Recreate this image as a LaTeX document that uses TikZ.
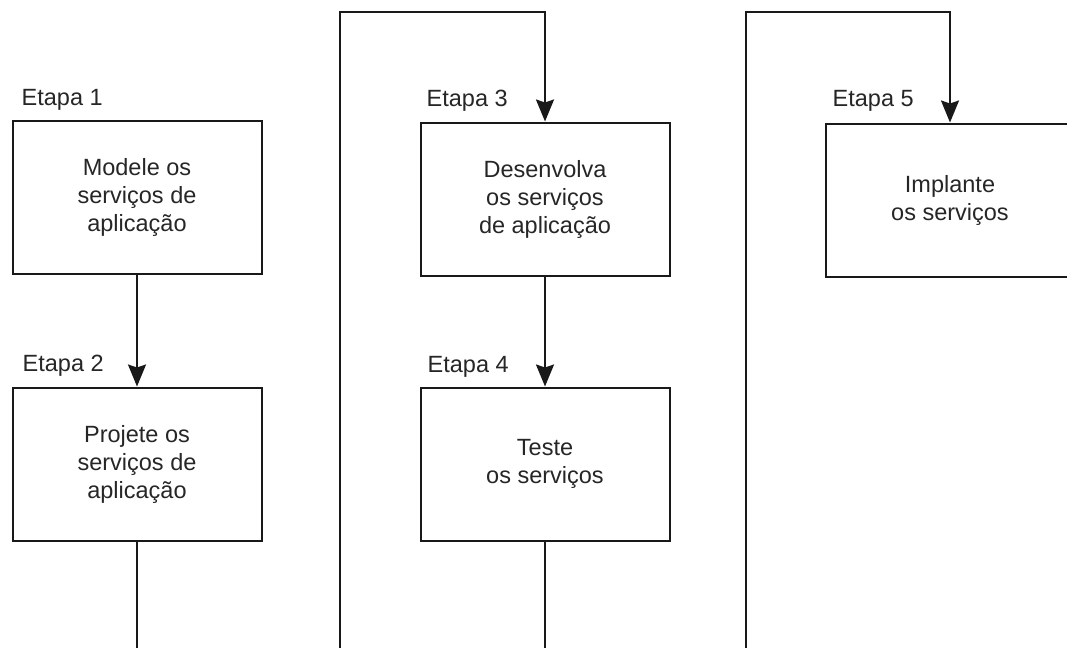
\documentclass[tikz,border=0pt]{standalone}
\usepackage{fontspec}
\setmainfont{Liberation Sans}
\usetikzlibrary{arrows.meta}
\begin{document}
\begin{tikzpicture}[x=1pt,y=-1pt,
  box/.style={draw=black!90, line width=2pt, rectangle, minimum width=249pt, minimum height=153pt, inner sep=0pt, align=center, font=\fontsize{23.5}{28}\selectfont, text=black!85},
  lbl/.style={anchor=base west, inner sep=0pt, font=\fontsize{23.5}{28}\selectfont, text=black!85},
  conn/.style={draw=black!90, line width=2pt},
  arr/.style={conn, -{Stealth[length=22pt, width=18pt, inset=3pt]}}]
\useasboundingbox (0,0) rectangle (1067,648);
\clip (0,0) rectangle (1067,648);
\node[box] (b1) at (137,197) {Modele os\\serviços de\\aplicação};
\node[box] (b2) at (137,464) {Projete os\\serviços de\\aplicação};
\node[box] (b3) at (545,199) {Desenvolva\\os serviços\\de aplicação};
\node[box] (b4) at (545,464) {Teste\\os serviços};
\node[box] (b5) at (950,200) {Implante\\os serviços};
\node[lbl] (l1) at ([shift={(10pt,14pt)}]b1.north west) {Etapa 1};
\node[lbl] (l2) at ([shift={(11pt,15pt)}]b2.north west) {Etapa 2};
\node[lbl] (l3) at ([shift={(7pt,15pt)}]b3.north west) {Etapa 3};
\node[lbl] (l4) at ([shift={(8pt,14pt)}]b4.north west) {Etapa 4};
\node[lbl] (l5) at ([shift={(8pt,16pt)}]b5.north west) {Etapa 5};
\coordinate (e2) at (137,648);
\coordinate (s3) at (340,648);
\coordinate (t3) at (340,12);
\coordinate (e4) at (545,648);
\coordinate (s5) at (746,648);
\coordinate (t5) at (746,12);
\draw[arr] (b1.south) -- (b2.north);
\draw[conn] (b2.south) -- (e2);
\draw[arr] (s3) -- (t3) -| (b3.north);
\draw[arr] (b3.south) -- (b4.north);
\draw[conn] (b4.south) -- (e4);
\draw[arr] (s5) -- (t5) -| (b5.north);
\end{tikzpicture}
\end{document}
